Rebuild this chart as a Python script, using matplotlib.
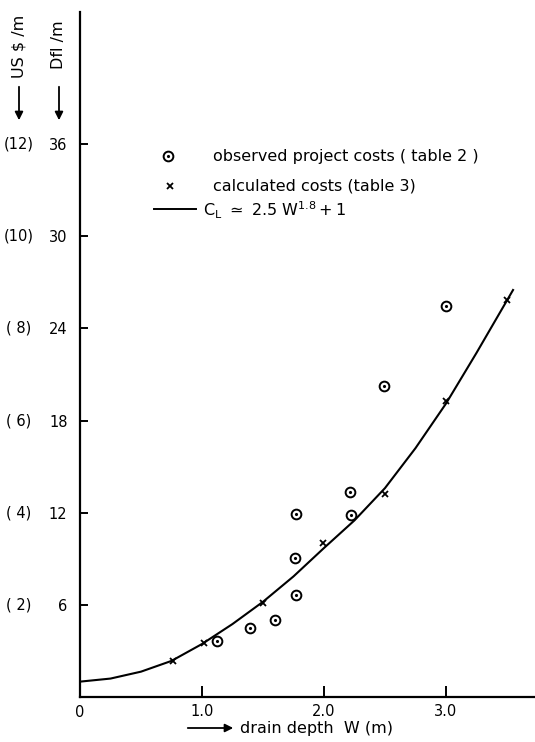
import numpy as np
import matplotlib
matplotlib.use("Agg")
import matplotlib.pyplot as plt
from matplotlib.patches import FancyArrowPatch
from matplotlib.transforms import blended_transform_factory

plt.rcParams['font.family'] = ['DejaVu Sans']
plt.rcParams['mathtext.fontset'] = 'dejavusans'

# observed project costs (table 2)
obs_w = [1.12, 1.39, 1.60, 1.77, 1.76, 1.77, 2.21, 2.22, 2.49, 3.00]
obs_c = [3.67, 4.49, 5.03, 6.62, 9.05, 11.93, 13.37, 11.87, 20.25, 25.45]

# calculated costs (table 3)
calc_w = [0.76, 1.02, 1.50, 1.99, 2.50, 3.00, 3.50]
calc_c = [2.36, 3.50, 6.14, 10.0, 13.2, 19.3, 25.85]

# fitted curve
curve_w = [0, 0.25, 0.5, 0.75, 1.0, 1.25, 1.5, 1.75, 2.0, 2.25, 2.5, 2.75, 3.0, 3.25, 3.55]
curve_c = [1.0, 1.2, 1.65, 2.35, 3.45, 4.75, 6.2, 7.85, 9.7, 11.5, 13.6, 16.2, 19.1, 22.4, 26.5]

yticks = [6, 12, 18, 24, 30, 36]
usd_labels = ["( 2)", "( 4)", "( 6)", "( 8)", "(10)", "(12)"]
xticks = [1.0, 2.0, 3.0]
xtick_labels = ["1.0", "2.0", "3.0"]

FS = 11.5
TS = 10.5

fig = plt.figure(figsize=(5.35, 7.42), dpi=100)
ax = fig.add_axes([80/535, 45/742, 455/535, 685/742])
ax.set_xlim(0, 3.73)
ax.set_ylim(0, 44.6)
for s in ['top', 'right']:
    ax.spines[s].set_visible(False)
for s in ['left', 'bottom']:
    ax.spines[s].set_linewidth(1.6)

ax.set_xticks(xticks)
ax.set_xticklabels(xtick_labels)
ax.set_yticks(yticks)
ax.set_yticklabels([str(t) for t in yticks])
ax.tick_params(direction='in', length=6, width=1.4, labelsize=TS, pad=9)
ax.tick_params(axis='x', length=8, pad=5)
ax.text(0, -0.55, "0", ha='center', va='top', fontsize=TS)

tr = blended_transform_factory(fig.transFigure, ax.transData)
for t, lab in zip(yticks, usd_labels):
    fig.text(19/535, t, lab, transform=tr, ha='center', va='center', fontsize=TS)

ax.plot(curve_w, curve_c, color='black', lw=1.5)
ax.plot(obs_w, obs_c, 'o', ms=7, mfc='white', mec='black', mew=1.4, ls='none')
ax.plot(obs_w, obs_c, '.', ms=2.5, color='black', ls='none')
ax.plot(calc_w, calc_c, 'x', ms=5, mew=1.3, color='black', ls='none')

# legend drawn by hand in figure pixels
def fx(px):
    return px / 535
def fy(py):
    return 1 - py / 742

fig.text(fx(213), fy(156), "observed project costs ( table 2 )", va='center', fontsize=FS)
fig.text(fx(213), fy(186), "calculated costs (table 3)", va='center', fontsize=FS)
fig.text(fx(203), fy(210), r"$\mathregular{C_L\ \simeq\ 2.5\ W^{1.8}+1}$", va='center', fontsize=FS)
fig.add_artist(plt.Line2D([fx(168)], [fy(156)], marker='o', ms=7, mfc='white', mec='black', mew=1.4))
fig.add_artist(plt.Line2D([fx(168)], [fy(156)], marker='.', ms=2.5, color='black'))
fig.add_artist(plt.Line2D([fx(170)], [fy(186)], marker='x', ms=5, mew=1.3, color='black'))
fig.add_artist(plt.Line2D([fx(154), fx(196)], [fy(209), fy(209)], color='black', lw=1.4))

# axis titles
fig.text(fx(19), fy(46), "US $ /m", rotation=90, ha='center', va='center', fontsize=FS)
fig.text(fx(59), fy(45), "Dfl /m", rotation=90, ha='center', va='center', fontsize=FS)
for px in (19, 59):
    fig.add_artist(FancyArrowPatch((fx(px), fy(84)), (fx(px), fy(123)),
                   transform=fig.transFigure, arrowstyle='-|>', mutation_scale=12,
                   color='black', lw=1.3))

fig.add_artist(FancyArrowPatch((fx(185), fy(728)), (fx(236), fy(728)),
               transform=fig.transFigure, arrowstyle='-|>', mutation_scale=12,
               color='black', lw=1.3))
fig.text(fx(240), fy(728), "drain depth  W (m)", va='center', fontsize=FS)

fig.savefig("out.png", dpi=100)
